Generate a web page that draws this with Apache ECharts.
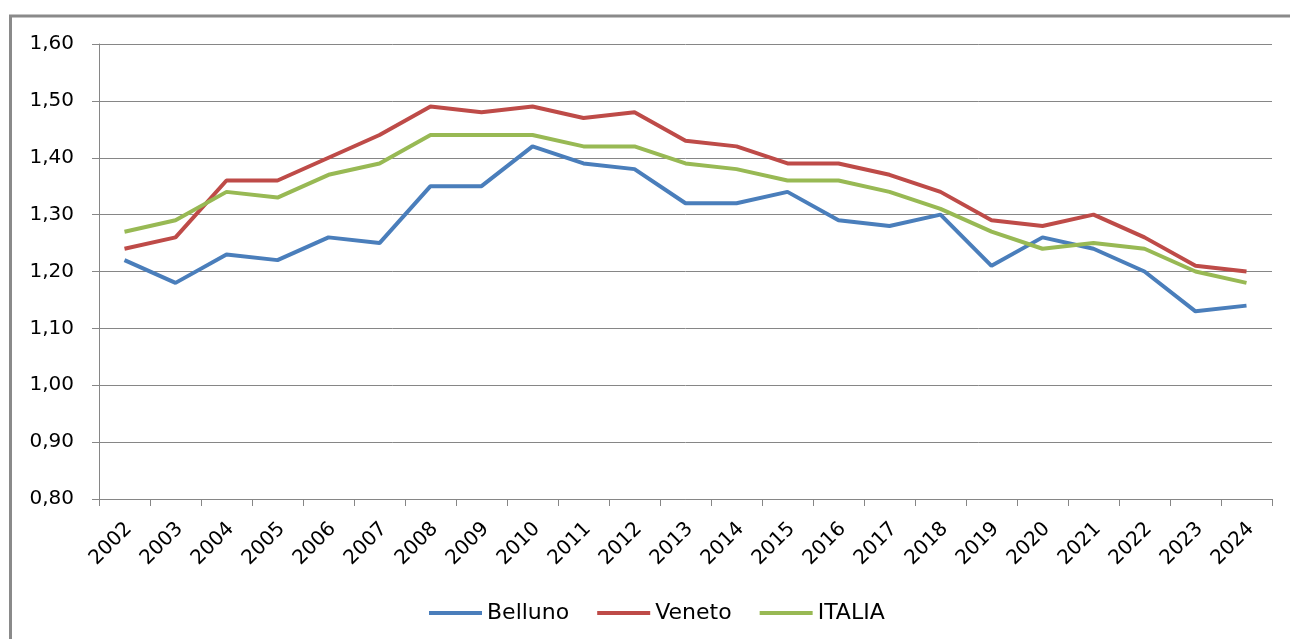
<!DOCTYPE html>
<html>
<head>
    <meta charset="UTF-8">
    <title>Belluno Veneto ITALIA</title>
    <script src="https://cdn.jsdelivr.net/npm/echarts@6/dist/echarts.min.js"></script>
    <style>
        html, body { margin: 0; padding: 0; background: #fff; }
        #main { width: 1290px; height: 639px; }
    </style>
</head>
<body>
<div id="main"></div>
<script type="text/javascript">
    // anni
    var years = ['2002', '2003', '2004', '2005', '2006', '2007', '2008', '2009', '2010', '2011', '2012', '2013',
        '2014', '2015', '2016', '2017', '2018', '2019', '2020', '2021', '2022', '2023', '2024'];
    // valori
    var belluno = [1.22, 1.18, 1.23, 1.22, 1.26, 1.25, 1.35, 1.35, 1.42, 1.39, 1.38, 1.32,
        1.32, 1.34, 1.29, 1.28, 1.30, 1.21, 1.26, 1.24, 1.20, 1.13, 1.14];
    var veneto = [1.24, 1.26, 1.36, 1.36, 1.40, 1.44, 1.49, 1.48, 1.49, 1.47, 1.48, 1.43,
        1.42, 1.39, 1.39, 1.37, 1.34, 1.29, 1.28, 1.30, 1.26, 1.21, 1.20];
    var italia = [1.27, 1.29, 1.34, 1.33, 1.37, 1.39, 1.44, 1.44, 1.44, 1.42, 1.42, 1.39,
        1.38, 1.36, 1.36, 1.34, 1.31, 1.27, 1.24, 1.25, 1.24, 1.20, 1.18];
    var seriesNames = ['Belluno', 'Veneto', 'ITALIA'];
    var colors = ['#4a7ebb', '#be4b48', '#98b954'];

    var gridColor = '#868686';

    var myChart = echarts.init(document.getElementById('main'));

    function makeLine(name, data, color) {
        return {
            name: name,
            type: 'line',
            data: data,
            symbol: 'none',
            smooth: false,
            lineStyle: { color: color, width: 4 },
            itemStyle: { color: color }
        };
    }

    myChart.setOption({
        animation: false,
        color: colors,
        grid: {
            left: 99,
            right: 18,
            top: 44,
            bottom: 140
        },
        // cornice del grafico
        graphic: [{
            type: 'polyline',
            shape: { points: [[10.5, 639], [10.5, 16], [1290, 16]] },
            style: { stroke: '#8a8a8a', lineWidth: 3, fill: null },
            silent: true
        }],
        legend: {
            data: seriesNames,
            left: 424,
            top: 597,
            icon: 'rect',
            itemWidth: 53,
            itemHeight: 4,
            itemGap: 28,
            textStyle: {
                fontFamily: 'DejaVu Sans',
                fontSize: 22,
                color: '#000'
            }
        },
        xAxis: {
            type: 'category',
            data: years,
            boundaryGap: true,
            axisLine: { show: true, lineStyle: { color: gridColor, width: 1 } },
            axisTick: { show: true, length: 7, lineStyle: { color: gridColor } },
            axisLabel: {
                rotate: 45,
                interval: 0,
                margin: 31,
                padding: [0, -6, 0, 0],
                fontFamily: 'DejaVu Sans',
                fontSize: 20,
                color: '#000'
            },
            splitLine: { show: false }
        },
        yAxis: {
            type: 'value',
            min: 0.8,
            max: 1.6,
            interval: 0.1,
            axisLine: { show: true, lineStyle: { color: gridColor, width: 1 } },
            axisTick: { show: true, length: 7, lineStyle: { color: gridColor } },
            axisLabel: {
                margin: 25,
                fontFamily: 'DejaVu Sans',
                fontSize: 20,
                color: '#000',
                formatter: function (v) {
                    return v.toFixed(2).replace('.', ',');
                }
            },
            splitLine: { show: true, lineStyle: { color: gridColor, width: 1 } }
        },
        series: [
            makeLine(seriesNames[0], belluno, colors[0]),
            makeLine(seriesNames[1], veneto, colors[1]),
            makeLine(seriesNames[2], italia, colors[2])
        ]
    });
</script>
</body>
</html>
